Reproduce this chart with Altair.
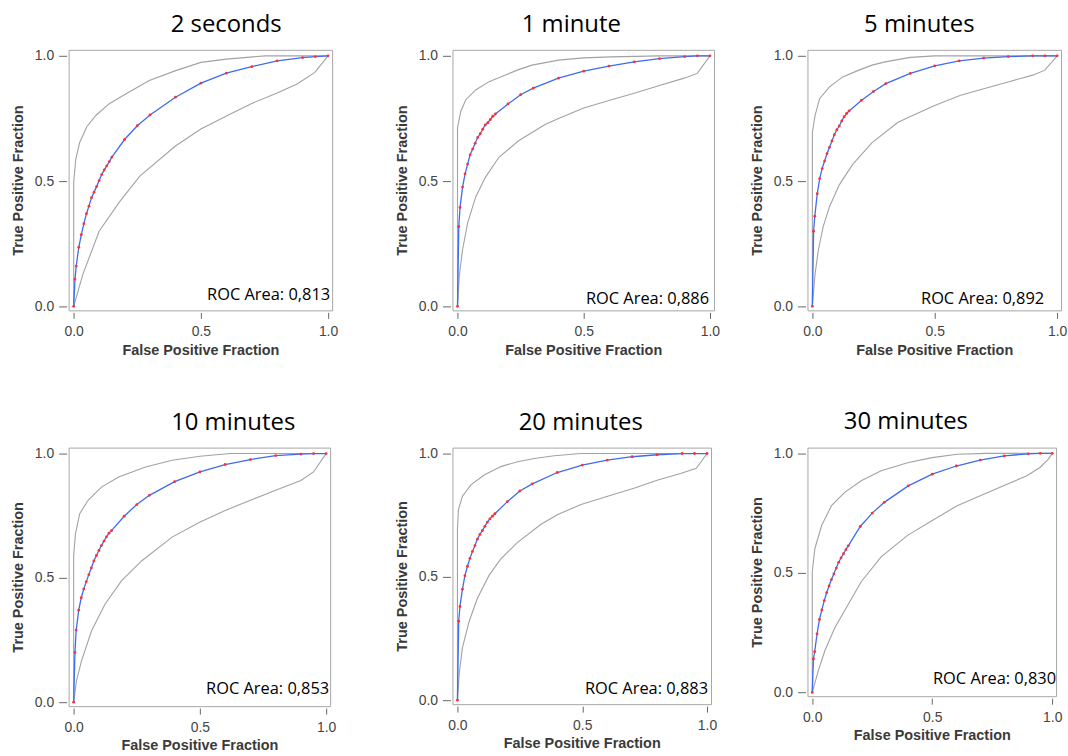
import altair as alt
import pandas as pd

# ---------------- data ----------------
FPR = [0, 0.005, 0.01, 0.02, 0.03, 0.04, 0.05, 0.06, 0.07, 0.08, 0.09, 0.10,
       0.11, 0.12, 0.13, 0.14, 0.15, 0.2, 0.25, 0.3, 0.4, 0.5, 0.6, 0.7, 0.8,
       0.9, 0.95, 1.0]

TPR_2S = [0, 0.109, 0.161, 0.236, 0.286, 0.33, 0.37, 0.40, 0.434, 0.456, 0.478,
          0.502, 0.526, 0.545, 0.561, 0.578, 0.596, 0.666, 0.721, 0.764, 0.835,
          0.891, 0.931, 0.957, 0.98, 0.993, 0.997, 1.0]
TPR_1M = [0, 0.318, 0.395, 0.476, 0.529, 0.568, 0.605, 0.628, 0.651, 0.674, 0.689,
          0.707, 0.724, 0.733, 0.746, 0.759, 0.768, 0.808, 0.845, 0.871, 0.911,
          0.939, 0.959, 0.976, 0.989, 0.997, 1.0, 1.0]
TPR_5M = [0, 0.30, 0.36, 0.45, 0.51, 0.55, 0.58, 0.61, 0.635, 0.66, 0.685, 0.705,
          0.72, 0.74, 0.757, 0.77, 0.78, 0.822, 0.858, 0.889, 0.93, 0.96, 0.98,
          0.991, 0.997, 1.0, 1.0, 1.0]
TPR_10M = [0, 0.20, 0.29, 0.37, 0.42, 0.455, 0.485, 0.513, 0.54, 0.568, 0.59, 0.61,
           0.63, 0.648, 0.665, 0.68, 0.69, 0.748, 0.795, 0.832, 0.887, 0.926,
           0.956, 0.976, 0.992, 0.998, 1.0, 1.0]
TPR_20M = [0, 0.32, 0.38, 0.45, 0.505, 0.543, 0.575, 0.603, 0.627, 0.653, 0.672,
           0.688, 0.705, 0.722, 0.735, 0.746, 0.756, 0.805, 0.848, 0.877, 0.923,
           0.953, 0.973, 0.987, 0.995, 1.0, 1.0, 1.0]
TPR_30M = [0, 0.14, 0.17, 0.245, 0.305, 0.345, 0.384, 0.417, 0.445, 0.472, 0.496,
           0.52, 0.544, 0.563, 0.58, 0.597, 0.613, 0.694, 0.75, 0.795, 0.864,
           0.913, 0.947, 0.972, 0.989, 0.998, 1.0, 1.0]

# upper confidence bounds
UP_2S_X = [0, 0, 0.008, 0.023, 0.052, 0.089, 0.141, 0.206, 0.297, 0.401, 0.5, 0.6, 0.753, 1.0]
UP_2S_Y = [0, 0.495, 0.587, 0.653, 0.718, 0.764, 0.81, 0.849, 0.902, 0.941, 0.974, 0.987, 1.0, 1.0]
UP_1M_X = [0, 0, 0.013, 0.033, 0.072, 0.125, 0.19, 0.242, 0.295, 0.4, 0.5, 0.61, 0.8, 1.0]
UP_1M_Y = [0, 0.713, 0.779, 0.825, 0.864, 0.897, 0.924, 0.945, 0.963, 0.983, 0.992, 0.996, 1.0, 1.0]
UP_5M_X = [0, 0, 0.011, 0.03, 0.07, 0.124, 0.19, 0.244, 0.297, 0.4, 0.5, 1.0]
UP_5M_Y = [0, 0.694, 0.761, 0.83, 0.876, 0.916, 0.943, 0.963, 0.976, 0.994, 1.0, 1.0]
UP_10M_X = [0, 0, 0.007, 0.024, 0.057, 0.11, 0.178, 0.285, 0.39, 0.5, 0.62, 1.0]
UP_10M_Y = [0, 0.59, 0.677, 0.758, 0.812, 0.865, 0.906, 0.946, 0.973, 0.989, 1.0, 1.0]
UP_20M_X = [0, 0, 0.004, 0.02, 0.054, 0.107, 0.174, 0.241, 0.308, 0.388, 0.495, 1.0]
UP_20M_Y = [0, 0.693, 0.773, 0.827, 0.873, 0.913, 0.947, 0.967, 0.98, 0.991, 1.0, 1.0]
UP_30M_X = [0, 0, 0.011, 0.039, 0.08, 0.135, 0.204, 0.287, 0.397, 0.5, 0.604, 0.728, 1.0]
UP_30M_Y = [0, 0.505, 0.602, 0.698, 0.781, 0.837, 0.885, 0.927, 0.961, 0.982, 0.996, 1.0, 1.0]

# lower confidence bounds
LO_2S_X = [0, 0.036, 0.1, 0.18, 0.26, 0.4, 0.5, 0.62, 0.7, 0.8, 0.88, 0.948, 1.0]
LO_2S_Y = [0, 0.128, 0.30, 0.417, 0.52, 0.64, 0.708, 0.77, 0.81, 0.852, 0.889, 0.934, 1.0]
LO_1M_X = [0, 0.007, 0.02, 0.04, 0.072, 0.111, 0.164, 0.242, 0.347, 0.4, 0.5, 0.61, 0.7, 0.8, 0.898, 0.95, 1.0]
LO_1M_Y = [0, 0.121, 0.226, 0.332, 0.437, 0.516, 0.595, 0.661, 0.726, 0.75, 0.792, 0.825, 0.851, 0.882, 0.911, 0.93, 1.0]
LO_5M_X = [0, 0.011, 0.024, 0.044, 0.07, 0.11, 0.164, 0.244, 0.35, 0.403, 0.5, 0.603, 0.7, 0.8, 0.9, 0.95, 1.0]
LO_5M_Y = [0, 0.128, 0.222, 0.317, 0.398, 0.485, 0.566, 0.654, 0.735, 0.759, 0.802, 0.842, 0.869, 0.896, 0.923, 0.943, 1.0]
LO_10M_X = [0, 0.011, 0.031, 0.071, 0.124, 0.19, 0.27, 0.39, 0.499, 0.6, 0.7, 0.8, 0.9, 0.95, 1.0]
LO_10M_Y = [0, 0.085, 0.166, 0.287, 0.394, 0.489, 0.569, 0.664, 0.724, 0.771, 0.812, 0.852, 0.892, 0.926, 1.0]
LO_20M_X = [0, 0.007, 0.02, 0.047, 0.08, 0.127, 0.174, 0.241, 0.335, 0.402, 0.495, 0.602, 0.71, 0.803, 0.897, 0.957, 1.0]
LO_20M_Y = [0, 0.107, 0.213, 0.32, 0.413, 0.507, 0.573, 0.64, 0.713, 0.753, 0.793, 0.827, 0.86, 0.893, 0.92, 0.94, 1.0]
LO_30M_X = [0, 0.025, 0.052, 0.094, 0.149, 0.204, 0.287, 0.397, 0.5, 0.604, 0.7, 0.797, 0.894, 0.949, 0.983, 1.0]
LO_30M_Y = [0, 0.09, 0.173, 0.27, 0.367, 0.463, 0.567, 0.657, 0.719, 0.781, 0.823, 0.864, 0.906, 0.941, 0.975, 1.0]

TITLES = ["2 seconds", "1 minute", "5 minutes", "10 minutes", "20 minutes", "30 minutes"]
AUC_LABELS = ["ROC Area: 0,813", "ROC Area: 0,886", "ROC Area: 0,892",
              "ROC Area: 0,853", "ROC Area: 0,883", "ROC Area: 0,830"]
TICKS = [0.0, 0.5, 1.0]
X_TITLE = "False Positive Fraction"
Y_TITLE = "True Positive Fraction"

# ---------------- styling / layout ----------------
X_DOMAIN = [-0.02, 1.016]
Y_DOMAIN = [-0.016, 1.024]
GRAY = "#a2a2a2"
BLUE = "#3d6bf2"
RED = "#ff3030"
FRAME = "#a6a6a6"

# width, height, title dx, text right inset, text baseline inset
LAYOUT = [
    (265, 262, 26, 2, 10),
    (263, 262, -12, 5, 6),
    (255, 262, -15, 17, 6),
    (263, 260, 34, 1, 12),
    (260, 258, -1, 3, 10),
    (250, 250, -26, 0, 12),
]
GAP_WIDTHS = [121, 94]


def make_panel(i, fit, up_x, up_y, lo_x, lo_y):
    w, h, tdx, tr, tb = LAYOUT[i]
    x_enc = alt.X("fpr:Q",
                  scale=alt.Scale(domain=X_DOMAIN, nice=False, zero=False),
                  axis=alt.Axis(values=TICKS, format=".1f", title=X_TITLE,
                                offset=2, tickSize=6, labelPadding=6,
                                titlePadding=5))
    y_enc = alt.Y("tpr:Q",
                  scale=alt.Scale(domain=Y_DOMAIN, nice=False, zero=False),
                  axis=alt.Axis(values=TICKS, format=".1f", title=Y_TITLE,
                                offset=2, tickSize=8, labelPadding=5,
                                titlePadding=9))
    fit_df = pd.DataFrame({"fpr": FPR, "tpr": fit})
    up_df = pd.DataFrame({"fpr": up_x, "tpr": up_y, "k": list(range(len(up_x)))})
    lo_df = pd.DataFrame({"fpr": lo_x, "tpr": lo_y, "k": list(range(len(lo_x)))})

    upper = alt.Chart(up_df).mark_line(color=GRAY, strokeWidth=1.1).encode(
        x=x_enc, y=y_enc, order="k:Q")
    lower = alt.Chart(lo_df).mark_line(color=GRAY, strokeWidth=1.1).encode(
        x=x_enc, y=y_enc, order="k:Q")
    curve = alt.Chart(fit_df).mark_line(color=BLUE, strokeWidth=1.3).encode(
        x=x_enc, y=y_enc)
    dots = alt.Chart(fit_df).mark_circle(color=RED, size=8, opacity=1).encode(
        x=x_enc, y=y_enc)
    label = alt.Chart(pd.DataFrame({"label": [AUC_LABELS[i]]})).mark_text(
        align="right", baseline="alphabetic", font="Open Sans",
        fontSize=16.5, color="black").encode(
        x=alt.value(w - tr), y=alt.value(h - tb), text="label:N")

    return alt.layer(upper, lower, curve, dots, label).properties(
        width=w, height=h,
        view=alt.ViewBackground(stroke=FRAME, strokeWidth=1),
        title=alt.TitleParams(TITLES[i], dx=tdx, dy=7, font="Open Sans",
                              fontSize=24, fontWeight="normal", color="black",
                              anchor="middle", baseline="alphabetic",
                              offset=0))


def spacer(w):
    return alt.Chart(pd.DataFrame({"v": [0]})).mark_point(opacity=0).encode(
        x=alt.value(0), y=alt.value(0)).properties(
        width=w, height=1, view=alt.ViewBackground(strokeOpacity=0))


p1 = make_panel(0, TPR_2S, UP_2S_X, UP_2S_Y, LO_2S_X, LO_2S_Y)
p2 = make_panel(1, TPR_1M, UP_1M_X, UP_1M_Y, LO_1M_X, LO_1M_Y)
p3 = make_panel(2, TPR_5M, UP_5M_X, UP_5M_Y, LO_5M_X, LO_5M_Y)
p4 = make_panel(3, TPR_10M, UP_10M_X, UP_10M_Y, LO_10M_X, LO_10M_Y)
p5 = make_panel(4, TPR_20M, UP_20M_X, UP_20M_Y, LO_20M_X, LO_20M_Y)
p6 = make_panel(5, TPR_30M, UP_30M_X, UP_30M_Y, LO_30M_X, LO_30M_Y)

chart = alt.concat(
    p1, spacer(GAP_WIDTHS[0]), p2, spacer(GAP_WIDTHS[1]), p3,
    p4, spacer(GAP_WIDTHS[0]), p5, spacer(GAP_WIDTHS[1]), p6,
    columns=5, spacing={"row": 138, "column": 0}, bounds="flush",
).properties(
    padding={"left": 10, "top": 10, "right": 0, "bottom": 0},
    background="white",
).configure_view(
    stroke=FRAME, strokeWidth=1
).configure_axis(
    domain=False, grid=False,
    labelFont="Liberation Sans", labelFontSize=14, labelColor="#444444",
    titleFont="Liberation Sans", titleFontSize=14.5, titleFontWeight="bold",
    titleColor="#3a3a3a", tickColor="#666666", tickWidth=1,
)

chart.save("out.html", embed_options={"renderer": "svg", "actions": False})
